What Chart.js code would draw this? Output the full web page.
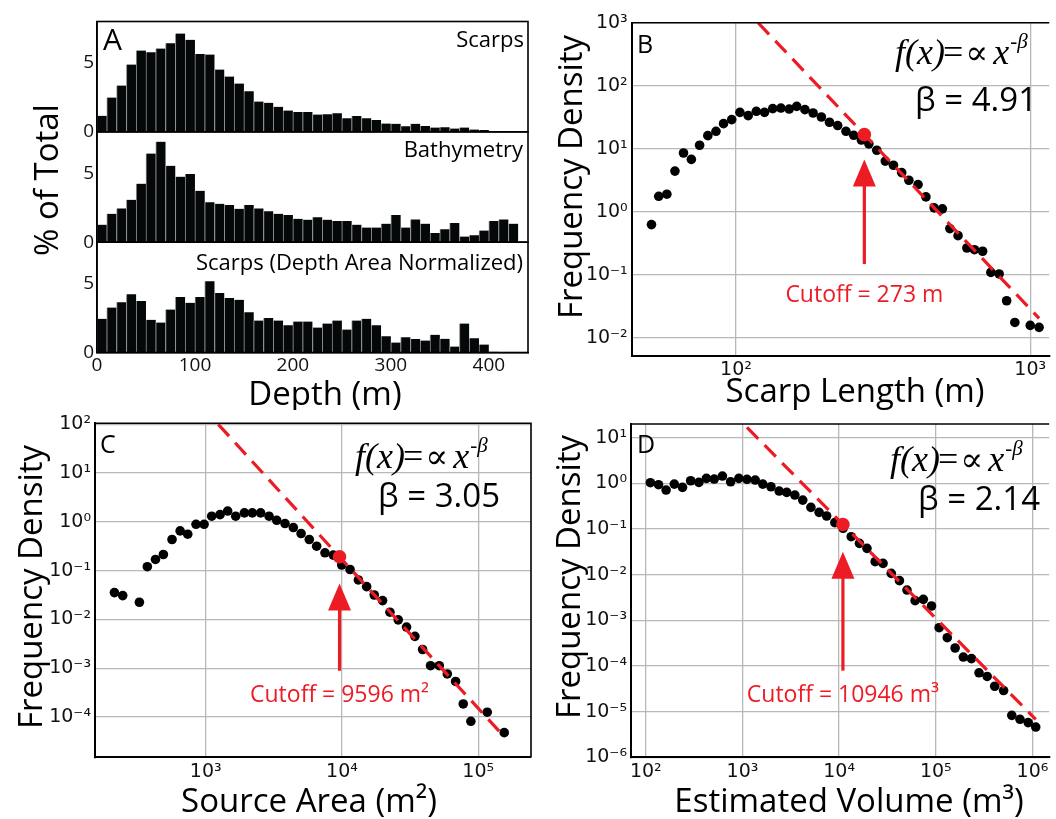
<!DOCTYPE html>
<html>
<head>
<meta charset="utf-8">
<script src="https://cdn.jsdelivr.net/npm/chart.js@4"></script>
<style>
html,body{margin:0;padding:0;background:#fff;overflow:hidden;width:1056px;height:819px;}
canvas{position:absolute;}
</style>
</head>
<body>
<canvas id="cA" width="540" height="410" style="left:0;top:0"></canvas>
<canvas id="cB" width="516" height="410" style="left:540px;top:0"></canvas>
<canvas id="cC" width="540" height="409" style="left:0;top:410px"></canvas>
<canvas id="cD" width="526" height="409" style="left:530px;top:410px"></canvas>
<script>
// ---------- Panel A data (percent of total per 10 m depth bin) ----------
const depthBins = [5,15,25,35,45,55,65,75,85,95,105,115,125,135,145,155,165,175,185,195,205,215,225,235,245,255,265,275,285,295,305,315,325,335,345,355,365,375,385,395,405,415,425];
const scarpsPct = [1.16,2.49,3.36,4.88,5.89,5.77,6.04,6.43,7.13,6.67,5.65,5.60,4.52,4.01,3.50,2.95,2.20,2.10,1.81,1.55,1.43,1.43,1.26,1.28,1.35,0.99,1.14,0.99,0.85,0.60,0.58,0.41,0.58,0.43,0.31,0.34,0.24,0.31,0.17,0.14,0.05];
const bathyPct = [1.27,2.06,2.45,3.07,4.24,6.43,7.29,5.54,4.75,4.94,3.72,2.90,2.78,2.69,2.42,2.69,2.45,2.25,2.06,1.97,1.70,1.63,1.80,1.63,1.53,1.53,1.27,1.06,1.06,1.34,1.97,1.06,1.65,1.34,0.67,0.94,1.39,0.41,0.50,0.84,1.53,1.65,1.34];
const scarpsNormPct = [2.44,3.26,3.65,4.23,3.74,2.37,2.17,3.12,4.03,3.60,4.03,5.17,4.32,3.96,3.82,2.92,2.32,2.51,2.32,1.98,2.25,2.25,1.81,2.10,2.32,1.67,2.32,2.44,1.98,1.18,0.72,1.11,0.97,0.87,1.28,0.99,0.43,2.10,1.04,0.58,0.05];
const depthTicks = [0,100,200,300,400];
const pctTicks = [0,5];

// ---------- Panel B: scarp length ----------
const lengthM = [51.6,54.6,58.2,62.0,66.3,70.5,75.2,80.2,85.5,90.7,96.7,103.1,110.0,117.2,125.0,133.3,142.1,151.6,160.8,171.5,182.8,195.0,207.8,221.6,236.4,251.2,266.7,282.8,300.9,321.6,342.9,365.6,386.8,415.6,442.0,471.4,502.8,533.1,568.4,609.1,646.2,689.0,734.8,783.8,831.4,886.5,1000,1071.8];
const lengthDensity = [0.63,1.77,1.91,4.44,8.6,6.8,11.4,16.2,19.0,25.1,29.1,37.9,33.6,39.4,37.9,43.4,44.4,42.8,47.2,41.8,37.0,32.0,26.4,23.4,19.0,16.4,13.8,12.0,9.5,6.4,5.5,4.2,3.18,2.72,1.73,1.16,1.12,0.544,0.421,0.268,0.252,0.238,0.110,0.104,0.0391,0.0177,0.0159,0.0148];
const lengthFitX = [118.8, 1072];
const lengthFitY = [1000, 0.0206];
const lengthCutoff = [273, 16.8];
const lengthArrowY = [6.8, 0.149];
const lengthXTicks = [100, 1000];
const lengthXLabels = ['10²','10³'];
const lengthYTicks = [0.01, 0.1, 1, 10, 100, 1000];
const lengthYLabels = ['10⁻²','10⁻¹','10⁰','10¹','10²','10³'];

// ---------- Panel C: source area ----------
const areaM2 = [213.8,246,326,373,428,489,566,649,738,849,973,1107,1274,1449,1660,1923,2198,2529,2917,3319,3819,4396,5012,5754,6518,7499,8630,9954,11460,13190,15170,17260,19860,22490,25880,29790,34280,39070,44670,51760,59290,68230,77620,88310,116400,155200];
const areaDensity = [0.0356,0.0309,0.0226,0.121,0.170,0.215,0.436,0.655,0.560,0.895,0.895,1.31,1.41,1.67,1.31,1.53,1.53,1.53,1.31,1.08,0.925,0.766,0.578,0.436,0.318,0.233,0.209,0.131,0.106,0.0646,0.0471,0.0318,0.0244,0.0141,0.00984,0.0070,0.00452,0.00243,0.00113,0.00113,7.67e-4,5.37e-4,1.86e-4,8.2e-5,1.26e-4,4.8e-5];
const areaFitX = [1236, 155000];
const areaFitY = [100, 3.97e-5];
const areaCutoff = [9596, 0.193];
const areaArrowY = [0.055, 8.9e-4];
const areaXTicks = [1e3, 1e4, 1e5];
const areaXLabels = ['10³','10⁴','10⁵'];
const areaYTicks = [1e-4, 1e-3, 1e-2, 1e-1, 1, 10, 100];
const areaYLabels = ['10⁻⁴','10⁻³','10⁻²','10⁻¹','10⁰','10¹','10²'];

// ---------- Panel D: estimated volume ----------
const volumeM3 = [111.5,135.5,162.2,197.2,239.8,291.2,354,423.6,510.5,620.4,754.3,917.7,1114,1355,1622,1972,2397,2869,3483,4205,5106,6208,7430,9031,10990,13340,16220,19410,23600,28460,34600,42070,50350,61110,74300,90300,108200,131500,158500,192700,234000,280000,340000,407000,503000,611000,743000,903000,1081000];
const volumeDensity = [1.035,0.935,0.714,0.966,0.817,1.143,1.052,1.286,1.245,1.449,1.086,1.286,1.225,1.183,0.966,0.845,0.679,0.635,0.556,0.431,0.298,0.232,0.193,0.138,0.104,0.068,0.0485,0.0378,0.0193,0.0177,0.0107,0.0074,0.00461,0.0027,0.00288,0.00206,6.9e-4,4.17e-4,2.48e-4,1.57e-4,1.45e-4,7.1e-5,5.9e-5,3.6e-5,2.9e-5,8.3e-6,6.8e-6,5.75e-6,4.6e-6];
const volumeFitX = [1114, 1081000];
const volumeFitY = [16.8, 6.8e-6];
const volumeCutoff = [10946, 0.126];
const volumeArrowY = [0.0318, 7.9e-5];
const volumeXTicks = [1e2, 1e3, 1e4, 1e5, 1e6];
const volumeXLabels = ['10²','10³','10⁴','10⁵','10⁶'];
const volumeYTicks = [1e-6, 1e-5, 1e-4, 1e-3, 1e-2, 1e-1, 1, 10];
const volumeYLabels = ['10⁻⁶','10⁻⁵','10⁻⁴','10⁻³','10⁻²','10⁻¹','10⁰','10¹'];

// ---------- styling ----------
const RED = '#ed1c24';
const GRID = '#b8b8b8';
const SANS = '"Open Sans", "Noto Sans", sans-serif';
const SERIF = '"Liberation Serif", "DejaVu Serif", serif';

function fixedSize(size, horizontal) {
  return function (scale) {
    if (horizontal) scale.height = size; else scale.width = size;
    scale.paddingLeft = 0; scale.paddingRight = 0; scale.paddingTop = 0; scale.paddingBottom = 0;
  };
}
function setTicks(values) {
  return function (scale) { scale.ticks = values.map(v => ({ value: v })); };
}

function textPlugin(items) {
  return {
    id: 'texts',
    afterDraw(chart) {
      const ctx = chart.ctx;
      for (const t of items) {
        ctx.save();
        ctx.font = t.font;
        ctx.fillStyle = t.color || '#000';
        ctx.textAlign = t.align || 'left';
        ctx.textBaseline = t.baseline || 'alphabetic';
        ctx.translate(t.x, t.y);
        if (t.rot) ctx.rotate(t.rot);
        ctx.fillText(t.text, 0, 0);
        ctx.restore();
      }
    }
  };
}

// f(x)=∝x^-β drawn piecewise
function formulaPlugin(left, baseline) {
  return {
    id: 'formula',
    afterDraw(chart) {
      const ctx = chart.ctx;
      ctx.save();
      ctx.fillStyle = '#000';
      ctx.textBaseline = 'alphabetic';
      ctx.textAlign = 'left';
      const parts = [
        { t: 'f(x)', f: 'italic 36px ' + SERIF, gap: -2, dy: 0 },
        { t: '=', f: '36px ' + SERIF, gap: 2, dy: 0 },
        { t: '∝', f: '34px ' + SERIF, gap: 5, dy: 0 },
        { t: 'x', f: 'italic 36px ' + SERIF, gap: 1, dy: 0 },
        { t: '-β', f: 'italic 21px ' + SERIF, gap: 0, dy: -16 }
      ];
      let x = left;
      for (const p of parts) {
        ctx.font = p.f;
        ctx.fillText(p.t, x, baseline + p.dy);
        x += ctx.measureText(p.t).width + p.gap;
      }
      ctx.restore();
    }
  };
}

function cutoffPlugin(cut, arrowY, labelText, labelDy) {
  return {
    id: 'cutoffArrow',
    afterDatasetsDraw(chart) {
      const ctx = chart.ctx;
      const xs = chart.scales.x, ys = chart.scales.y;
      const px = xs.getPixelForValue(cut[0]);
      const tip = ys.getPixelForValue(arrowY[0]);
      const tail = ys.getPixelForValue(arrowY[1]);
      const headL = 27, headW = 23;
      ctx.save();
      ctx.strokeStyle = RED; ctx.fillStyle = RED;
      ctx.lineWidth = 3.2;
      ctx.beginPath(); ctx.moveTo(px, tail); ctx.lineTo(px, tip + headL - 2); ctx.stroke();
      ctx.beginPath();
      ctx.moveTo(px, tip);
      ctx.lineTo(px - headW / 2, tip + headL);
      ctx.lineTo(px + headW / 2, tip + headL);
      ctx.closePath(); ctx.fill();
      ctx.font = '23px ' + SANS;
      ctx.textAlign = 'center'; ctx.textBaseline = 'alphabetic';
      ctx.fillText(labelText, px, tail + labelDy);
      ctx.restore();
    }
  };
}

function framePlugin(drawRight) {
  return {
    id: 'frame',
    afterDraw(chart) {
      const ctx = chart.ctx, a = chart.chartArea;
      ctx.save();
      ctx.strokeStyle = '#000'; ctx.lineWidth = 1.6;
      ctx.beginPath();
      ctx.moveTo(a.left, a.top); ctx.lineTo(a.right, a.top);
      if (drawRight) ctx.lineTo(a.right, a.bottom);
      ctx.stroke();
      ctx.restore();
    }
  };
}

function logPanel(id, p) {
  return new Chart(document.getElementById(id), {
    type: 'scatter',
    data: {
      datasets: [
        { data: [{ x: p.cut[0], y: p.cut[1] }], backgroundColor: RED, pointRadius: 6.8, borderWidth: 0, order: 0 },
        { data: p.fitX.map((x, i) => ({ x: x, y: p.fitY[i] })), showLine: true, borderColor: RED, borderWidth: 3.2,
          borderDash: [16, 9], pointRadius: 0, order: 1 },
        { data: p.x.map((x, i) => ({ x: x, y: p.y[i] })), backgroundColor: '#000', pointRadius: 4.8, borderWidth: 0, order: 2 }
      ]
    },
    options: {
      responsive: false, animation: false, events: [],
      layout: { padding: { top: p.area.top, right: p.area.rightPad, left: 0, bottom: 0 } },
      plugins: { legend: { display: false }, tooltip: { enabled: false } },
      scales: {
        x: {
          type: 'logarithmic', min: p.xMin, max: p.xMax,
          grid: { color: GRID, lineWidth: 1.3, drawTicks: false },
          border: { display: true, color: '#000', width: 2 },
          ticks: { font: { family: 'DejaVu Sans', size: 19 }, color: '#111', padding: 3, autoSkip: false, maxRotation: 0,
                   callback: (v, i) => p.xLabels[i] },
          afterBuildTicks: setTicks(p.xTicks),
          afterFit: fixedSize(p.area.xHeight, true)
        },
        y: {
          type: 'logarithmic', min: p.yMin, max: p.yMax,
          grid: { color: GRID, lineWidth: 1.3, drawTicks: false },
          border: { display: true, color: '#000', width: 2 },
          ticks: { font: { family: 'DejaVu Sans', size: 19 }, color: '#111', padding: 4, autoSkip: false,
                   callback: (v, i) => p.yLabels[i] },
          afterBuildTicks: setTicks(p.yTicks),
          afterFit: fixedSize(p.area.yWidth, false)
        }
      }
    },
    plugins: [
      framePlugin(p.rightSpine),
      cutoffPlugin(p.cut, p.arrowY, p.cutText, p.cutDy),
      formulaPlugin(p.formula[0], p.formula[1]),
      textPlugin(p.texts)
    ]
  });
}

// ---------- Panel A ----------
function barSet(vals, axis) {
  return {
    data: vals.map((v, i) => ({ x: depthBins[i], y: v })),
    yAxisID: axis, grouped: false,
    backgroundColor: '#050808', borderColor: '#8c8c8c',
    borderWidth: { left: 1, right: 0, top: 0, bottom: 0 },
    barPercentage: 1, categoryPercentage: 1
  };
}
function pctAxis(w) {
  return {
    type: 'linear', position: 'left', stack: 'pct', stackWeight: 1, weight: w,
    min: 0, max: 8, offset: false,
    grid: { display: false, drawTicks: false },
    border: { display: true, color: '#000', width: 1.6 },
    ticks: { font: { family: 'Open Sans', size: 19 }, color: '#111', padding: 3, autoSkip: false },
    afterBuildTicks: setTicks(pctTicks),
    afterFit: fixedSize(97, false)
  };
}
const aFrame = {
  id: 'aFrame',
  afterDraw(chart) {
    const ctx = chart.ctx, a = chart.chartArea;
    ctx.save();
    ctx.strokeStyle = '#000'; ctx.lineWidth = 1.6;
    for (const id of ['yTop', 'yMid', 'yBot']) {
      const s = chart.scales[id];
      ctx.strokeRect(a.left, s.top, a.right - a.left, s.bottom - s.top);
    }
    ctx.restore();
  }
};
new Chart(document.getElementById('cA'), {
  type: 'bar',
  data: { datasets: [barSet(scarpsPct, 'yTop'), barSet(bathyPct, 'yMid'), barSet(scarpsNormPct, 'yBot')] },
  options: {
    responsive: false, animation: false, events: [],
    layout: { padding: { top: 21.5, right: 12, left: 0, bottom: 0 } },
    plugins: { legend: { display: false }, tooltip: { enabled: false } },
    scales: {
      x: {
        type: 'linear', min: 0, max: 440, offset: false,
        grid: { display: false, drawTicks: false, offset: false },
        border: { display: true, color: '#000', width: 1.6 },
        ticks: { font: { family: 'Open Sans', size: 19 }, color: '#111', padding: 2, autoSkip: false, maxRotation: 0 },
        afterBuildTicks: setTicks(depthTicks),
        afterFit: fixedSize(57.5, true)
      },
      yBot: pctAxis(1),
      yMid: pctAxis(2),
      yTop: pctAxis(3)
    }
  },
  plugins: [aFrame, textPlugin([
    { text: 'A', x: 103, y: 50, font: '30px ' + SANS },
    { text: 'Scarps', x: 524, y: 47, font: '22px ' + SANS, align: 'right' },
    { text: 'Bathymetry', x: 523, y: 157, font: '22px ' + SANS, align: 'right' },
    { text: 'Scarps (Depth Area Normalized)', x: 523, y: 270, font: '22px ' + SANS, align: 'right' },
    { text: '% of Total', x: 58, y: 180, font: '33px ' + SANS, align: 'center', rot: -Math.PI / 2 },
    { text: 'Depth (m)', x: 325, y: 405, font: '33px ' + SANS, align: 'center' }
  ])]
});

// ---------- Panels B, C, D ----------
logPanel('cB', {
  x: lengthM, y: lengthDensity, fitX: lengthFitX, fitY: lengthFitY, cut: lengthCutoff, arrowY: lengthArrowY,
  xTicks: lengthXTicks, xLabels: lengthXLabels, yTicks: lengthYTicks, yLabels: lengthYLabels,
  xMin: 44.2, xMax: 1160, yMin: 0.0052, yMax: 1000,
  area: { top: 22.7, rightPad: 0, yWidth: 91.7, xHeight: 54 },
  rightSpine: false, cutText: 'Cutoff = 273 m', cutDy: 38, formula: [355, 64],
  texts: [
    { text: 'B', x: 97, y: 53, font: '25px ' + SANS },
    { text: 'β = 4.91', x: 497, y: 111, font: '33px ' + SANS, align: 'right' },
    { text: 'Frequency Density', x: 42, y: 177, font: '33px ' + SANS, align: 'center', rot: -Math.PI / 2 },
    { text: 'Scarp Length (m)', x: 315, y: 402, font: '33px ' + SANS, align: 'center' }
  ]
});
logPanel('cC', {
  x: areaM2, y: areaDensity, fitX: areaFitX, fitY: areaFitY, cut: areaCutoff, arrowY: areaArrowY,
  xTicks: areaXTicks, xLabels: areaXLabels, yTicks: areaYTicks, yLabels: areaYLabels,
  xMin: 154, xMax: 243900, yMin: 1.5e-5, yMax: 105,
  area: { top: 13.3, rightPad: 9, yWidth: 95, xHeight: 61.7 },
  rightSpine: true, cutText: 'Cutoff = 9596 m²', cutDy: 31, formula: [355, 58],
  texts: [
    { text: 'C', x: 100, y: 43, font: '25px ' + SANS },
    { text: 'β = 3.05', x: 500, y: 97, font: '33px ' + SANS, align: 'right' },
    { text: 'Frequency Density', x: 42, y: 177, font: '33px ' + SANS, align: 'center', rot: -Math.PI / 2 },
    { text: 'Source Area (m²)', x: 309, y: 402, font: '33px ' + SANS, align: 'center' }
  ]
});
logPanel('cD', {
  x: volumeM3, y: volumeDensity, fitX: volumeFitX, fitY: volumeFitY, cut: volumeCutoff, arrowY: volumeArrowY,
  xTicks: volumeXTicks, xLabels: volumeXLabels, yTicks: volumeYTicks, yLabels: volumeYLabels,
  xMin: 70.3, xMax: 1.49e6, yMin: 1e-6, yMax: 20,
  area: { top: 14, rightPad: 0, yWidth: 101, xHeight: 61.7 },
  rightSpine: false, cutText: 'Cutoff = 10946 m³', cutDy: 31, formula: [360, 61],
  texts: [
    { text: 'D', x: 107, y: 43, font: '25px ' + SANS },
    { text: 'β = 2.14', x: 510, y: 100, font: '33px ' + SANS, align: 'right' },
    { text: 'Frequency Density', x: 50, y: 167, font: '33px ' + SANS, align: 'center', rot: -Math.PI / 2 },
    { text: 'Estimated Volume (m³)', x: 319, y: 402, font: '33px ' + SANS, align: 'center' }
  ]
});
</script>
</body>
</html>
